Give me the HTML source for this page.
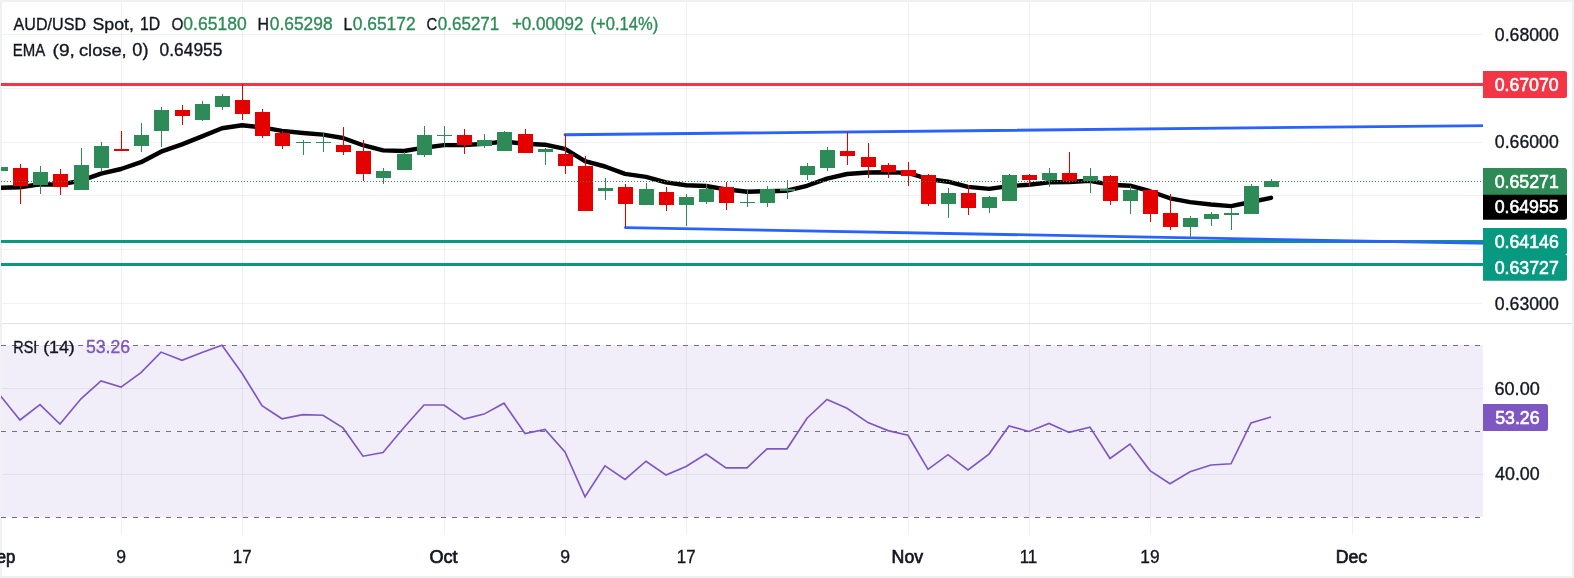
<!DOCTYPE html>
<html><head><meta charset="utf-8"><title>AUD/USD Spot</title>
<style>
html,body{margin:0;padding:0;background:#fff;}
body{width:1574px;height:578px;overflow:hidden;font-family:"Liberation Sans",sans-serif;}
svg{display:block;position:absolute;left:0;top:0;will-change:transform;}
text{font-family:"Liberation Sans",sans-serif;font-size:17px;white-space:pre;}
.d{fill:#131722;stroke:#131722;stroke-width:0.35px;}
.g{fill:#2e8b57;stroke:#2e8b57;stroke-width:0.35px;}
.w{fill:#fff;font-weight:700;}
.b{font-weight:700;fill:#131722;}
</style></head><body>
<svg width="1574" height="578" viewBox="0 0 1574 578">
<rect x="0" y="0" width="1574" height="578" fill="#ffffff"/>
<path d="M0 0H1574V578H0Z M2 2V576H1572V2Z" fill="#eff1f5" fill-rule="evenodd" shape-rendering="crispEdges"/>
<defs><clipPath id="cp"><rect x="1" y="2" width="1482" height="574"/></clipPath></defs>
<rect x="2" y="345" width="1481" height="172" fill="#f1eef9" shape-rendering="crispEdges"/>
<g fill="rgba(42,46,57,0.065)" shape-rendering="crispEdges">
<rect x="2" y="34" width="1481" height="1"/><rect x="2" y="88" width="1481" height="1"/><rect x="2" y="142" width="1481" height="1"/><rect x="2" y="195" width="1481" height="1"/><rect x="2" y="249" width="1481" height="1"/><rect x="2" y="303" width="1481" height="1"/><rect x="121" y="2" width="1" height="321"/><rect x="242" y="2" width="1" height="321"/><rect x="444" y="2" width="1" height="321"/><rect x="565" y="2" width="1" height="321"/><rect x="686" y="2" width="1" height="321"/><rect x="908" y="2" width="1" height="321"/><rect x="1029" y="2" width="1" height="321"/><rect x="1150" y="2" width="1" height="321"/><rect x="1352" y="2" width="1" height="321"/>
</g>
<g fill="rgba(42,46,57,0.065)" shape-rendering="crispEdges">
<rect x="2" y="388" width="1481" height="1"/><rect x="2" y="474" width="1481" height="1"/><rect x="121" y="345" width="1" height="172"/><rect x="242" y="345" width="1" height="172"/><rect x="444" y="345" width="1" height="172"/><rect x="565" y="345" width="1" height="172"/><rect x="686" y="345" width="1" height="172"/><rect x="908" y="345" width="1" height="172"/><rect x="1029" y="345" width="1" height="172"/><rect x="1150" y="345" width="1" height="172"/><rect x="1352" y="345" width="1" height="172"/>
</g>
<g fill="rgba(42,46,57,0.065)" shape-rendering="crispEdges">
<rect x="121" y="324" width="1" height="21"/><rect x="121" y="517" width="1" height="18"/><rect x="242" y="324" width="1" height="21"/><rect x="242" y="517" width="1" height="18"/><rect x="444" y="324" width="1" height="21"/><rect x="444" y="517" width="1" height="18"/><rect x="565" y="324" width="1" height="21"/><rect x="565" y="517" width="1" height="18"/><rect x="686" y="324" width="1" height="21"/><rect x="686" y="517" width="1" height="18"/><rect x="908" y="324" width="1" height="21"/><rect x="908" y="517" width="1" height="18"/><rect x="1029" y="324" width="1" height="21"/><rect x="1029" y="517" width="1" height="18"/><rect x="1150" y="324" width="1" height="21"/><rect x="1150" y="517" width="1" height="18"/><rect x="1352" y="324" width="1" height="21"/><rect x="1352" y="517" width="1" height="18"/>
</g>
<rect x="2" y="323" width="1570" height="1" fill="#e0e3eb" shape-rendering="crispEdges"/>
<g shape-rendering="crispEdges"><rect x="1" y="83" width="1482" height="3" fill="#f23645"/><rect x="1" y="240" width="1482" height="3" fill="#089981"/><rect x="1" y="263" width="1482" height="3" fill="#089981"/></g>
<g stroke="#2962ff" stroke-width="2.8" stroke-linecap="round"><line x1="565" y1="134.75" x2="1490" y2="125.53"/><line x1="625.4" y1="227.55" x2="1490" y2="243.43"/></g>
<polyline clip-path="url(#cp)" fill="none" stroke="#000" stroke-width="4.4" stroke-linejoin="round" stroke-linecap="round" points="0.0,187.7 20.0,187.2 40.0,184.2 60.0,184.6 81.0,180.6 101.0,173.6 121.0,169.0 141.0,162.2 161.0,151.7 182.0,144.4 202.0,136.4 222.0,128.2 242.0,125.3 262.0,127.3 282.0,130.9 303.0,133.0 323.0,134.6 343.0,138.0 363.0,145.2 383.0,150.4 404.0,151.0 424.0,147.7 444.0,145.1 464.0,145.0 484.0,143.9 504.0,141.5 525.0,143.7 545.0,144.7 565.0,148.9 585.0,161.2 605.0,166.5 625.0,173.9 646.0,176.9 666.0,182.4 686.0,185.3 706.0,186.0 726.0,189.3 747.0,191.8 767.0,191.2 787.0,190.7 807.0,185.8 827.0,178.6 847.0,174.0 868.0,172.5 888.0,172.3 908.0,172.9 928.0,179.0 948.0,181.7 968.0,186.9 989.0,188.9 1009.0,186.1 1029.0,184.7 1049.0,182.4 1069.0,182.0 1090.0,180.8 1110.0,184.7 1130.0,185.7 1150.0,191.2 1170.0,198.3 1190.0,202.1 1211.0,204.5 1231.0,206.1 1251.0,202.0 1271.0,197.8"/>
<g shape-rendering="crispEdges" clip-path="url(#cp)">
<rect x="0" y="165" width="1" height="7" fill="#2e8b57"/><rect x="-7" y="167" width="15" height="4" fill="#2e8b57"/>
<rect x="20" y="164" width="1" height="40" fill="#e50000"/><rect x="13" y="168" width="15" height="18" fill="#e50000"/>
<rect x="40" y="166" width="1" height="28" fill="#2e8b57"/><rect x="33" y="172" width="15" height="13" fill="#2e8b57"/>
<rect x="60" y="169" width="1" height="26" fill="#e50000"/><rect x="53" y="174" width="15" height="13" fill="#e50000"/>
<rect x="81" y="148" width="1" height="42" fill="#2e8b57"/><rect x="74" y="165" width="15" height="25" fill="#2e8b57"/>
<rect x="101" y="142" width="1" height="29" fill="#2e8b57"/><rect x="94" y="146" width="15" height="22" fill="#2e8b57"/>
<rect x="121" y="131" width="1" height="20" fill="#e50000"/><rect x="114" y="149" width="15" height="2" fill="#e50000"/>
<rect x="141" y="123" width="1" height="29" fill="#2e8b57"/><rect x="134" y="135" width="15" height="11" fill="#2e8b57"/>
<rect x="161" y="107" width="1" height="40" fill="#2e8b57"/><rect x="154" y="110" width="15" height="21" fill="#2e8b57"/>
<rect x="182" y="105" width="1" height="20" fill="#e50000"/><rect x="175" y="110" width="15" height="6" fill="#e50000"/>
<rect x="202" y="101" width="1" height="20" fill="#2e8b57"/><rect x="195" y="104" width="15" height="16" fill="#2e8b57"/>
<rect x="222" y="94" width="1" height="16" fill="#2e8b57"/><rect x="215" y="96" width="15" height="11" fill="#2e8b57"/>
<rect x="242" y="84" width="1" height="36" fill="#e50000"/><rect x="235" y="100" width="15" height="14" fill="#e50000"/>
<rect x="262" y="109" width="1" height="29" fill="#e50000"/><rect x="255" y="112" width="15" height="24" fill="#e50000"/>
<rect x="282" y="131" width="1" height="18" fill="#e50000"/><rect x="275" y="133" width="15" height="13" fill="#e50000"/>
<rect x="303" y="140" width="1" height="15" fill="#2e8b57"/><rect x="296" y="142" width="15" height="1" fill="#2e8b57"/>
<rect x="323" y="133" width="1" height="19" fill="#2e8b57"/><rect x="316" y="142" width="15" height="1" fill="#2e8b57"/>
<rect x="343" y="127" width="1" height="28" fill="#e50000"/><rect x="336" y="145" width="15" height="7" fill="#e50000"/>
<rect x="363" y="140" width="1" height="41" fill="#e50000"/><rect x="356" y="151" width="15" height="23" fill="#e50000"/>
<rect x="383" y="168" width="1" height="16" fill="#2e8b57"/><rect x="376" y="171" width="15" height="7" fill="#2e8b57"/>
<rect x="404" y="152" width="1" height="18" fill="#2e8b57"/><rect x="397" y="154" width="15" height="16" fill="#2e8b57"/>
<rect x="424" y="126" width="1" height="31" fill="#2e8b57"/><rect x="417" y="135" width="15" height="20" fill="#2e8b57"/>
<rect x="444" y="126" width="1" height="21" fill="#2e8b57"/><rect x="437" y="135" width="15" height="1" fill="#2e8b57"/>
<rect x="464" y="129" width="1" height="25" fill="#e50000"/><rect x="457" y="135" width="15" height="10" fill="#e50000"/>
<rect x="484" y="134" width="1" height="14" fill="#2e8b57"/><rect x="477" y="140" width="15" height="6" fill="#2e8b57"/>
<rect x="504" y="131" width="1" height="20" fill="#2e8b57"/><rect x="497" y="132" width="15" height="19" fill="#2e8b57"/>
<rect x="525" y="129" width="1" height="24" fill="#e50000"/><rect x="518" y="134" width="15" height="19" fill="#e50000"/>
<rect x="545" y="148" width="1" height="17" fill="#2e8b57"/><rect x="538" y="149" width="15" height="3" fill="#2e8b57"/>
<rect x="565" y="134" width="1" height="40" fill="#e50000"/><rect x="558" y="154" width="15" height="12" fill="#e50000"/>
<rect x="585" y="156" width="1" height="55" fill="#e50000"/><rect x="578" y="166" width="15" height="45" fill="#e50000"/>
<rect x="605" y="178" width="1" height="22" fill="#2e8b57"/><rect x="598" y="188" width="15" height="3" fill="#2e8b57"/>
<rect x="625" y="184" width="1" height="43" fill="#e50000"/><rect x="618" y="187" width="15" height="17" fill="#e50000"/>
<rect x="646" y="183" width="1" height="22" fill="#2e8b57"/><rect x="639" y="189" width="15" height="16" fill="#2e8b57"/>
<rect x="666" y="187" width="1" height="24" fill="#e50000"/><rect x="659" y="192" width="15" height="13" fill="#e50000"/>
<rect x="686" y="194" width="1" height="32" fill="#2e8b57"/><rect x="679" y="197" width="15" height="8" fill="#2e8b57"/>
<rect x="706" y="184" width="1" height="20" fill="#2e8b57"/><rect x="699" y="189" width="15" height="13" fill="#2e8b57"/>
<rect x="726" y="182" width="1" height="28" fill="#e50000"/><rect x="719" y="187" width="15" height="16" fill="#e50000"/>
<rect x="747" y="189" width="1" height="18" fill="#2e8b57"/><rect x="740" y="202" width="15" height="1" fill="#2e8b57"/>
<rect x="767" y="186" width="1" height="21" fill="#2e8b57"/><rect x="760" y="189" width="15" height="14" fill="#2e8b57"/>
<rect x="787" y="180" width="1" height="19" fill="#2e8b57"/><rect x="780" y="189" width="15" height="2" fill="#2e8b57"/>
<rect x="807" y="163" width="1" height="17" fill="#2e8b57"/><rect x="800" y="166" width="15" height="9" fill="#2e8b57"/>
<rect x="827" y="147" width="1" height="24" fill="#2e8b57"/><rect x="820" y="150" width="15" height="18" fill="#2e8b57"/>
<rect x="847" y="132" width="1" height="33" fill="#e50000"/><rect x="840" y="151" width="15" height="5" fill="#e50000"/>
<rect x="868" y="143" width="1" height="35" fill="#e50000"/><rect x="861" y="157" width="15" height="10" fill="#e50000"/>
<rect x="888" y="163" width="1" height="15" fill="#e50000"/><rect x="881" y="165" width="15" height="7" fill="#e50000"/>
<rect x="908" y="162" width="1" height="24" fill="#e50000"/><rect x="901" y="170" width="15" height="6" fill="#e50000"/>
<rect x="928" y="174" width="1" height="32" fill="#e50000"/><rect x="921" y="175" width="15" height="29" fill="#e50000"/>
<rect x="948" y="188" width="1" height="30" fill="#2e8b57"/><rect x="941" y="193" width="15" height="11" fill="#2e8b57"/>
<rect x="968" y="185" width="1" height="30" fill="#e50000"/><rect x="961" y="193" width="15" height="15" fill="#e50000"/>
<rect x="989" y="196" width="1" height="17" fill="#2e8b57"/><rect x="982" y="197" width="15" height="11" fill="#2e8b57"/>
<rect x="1009" y="174" width="1" height="27" fill="#2e8b57"/><rect x="1002" y="175" width="15" height="26" fill="#2e8b57"/>
<rect x="1029" y="174" width="1" height="13" fill="#e50000"/><rect x="1022" y="175" width="15" height="5" fill="#e50000"/>
<rect x="1049" y="168" width="1" height="19" fill="#2e8b57"/><rect x="1042" y="173" width="15" height="7" fill="#2e8b57"/>
<rect x="1069" y="152" width="1" height="31" fill="#e50000"/><rect x="1062" y="173" width="15" height="8" fill="#e50000"/>
<rect x="1090" y="168" width="1" height="25" fill="#2e8b57"/><rect x="1083" y="176" width="15" height="5" fill="#2e8b57"/>
<rect x="1110" y="175" width="1" height="30" fill="#e50000"/><rect x="1103" y="176" width="15" height="25" fill="#e50000"/>
<rect x="1130" y="186" width="1" height="28" fill="#2e8b57"/><rect x="1123" y="190" width="15" height="11" fill="#2e8b57"/>
<rect x="1150" y="189" width="1" height="33" fill="#e50000"/><rect x="1143" y="190" width="15" height="24" fill="#e50000"/>
<rect x="1170" y="194" width="1" height="36" fill="#e50000"/><rect x="1163" y="213" width="15" height="14" fill="#e50000"/>
<rect x="1190" y="216" width="1" height="22" fill="#2e8b57"/><rect x="1183" y="218" width="15" height="9" fill="#2e8b57"/>
<rect x="1211" y="212" width="1" height="14" fill="#2e8b57"/><rect x="1204" y="214" width="15" height="5" fill="#2e8b57"/>
<rect x="1231" y="208" width="1" height="22" fill="#2e8b57"/><rect x="1224" y="213" width="15" height="2" fill="#2e8b57"/>
<rect x="1251" y="184" width="1" height="30" fill="#2e8b57"/><rect x="1244" y="186" width="15" height="28" fill="#2e8b57"/>
<rect x="1271" y="179" width="1" height="8" fill="#2e8b57"/><rect x="1264" y="181" width="15" height="6" fill="#2e8b57"/>
</g>
<rect x="1483" y="2" width="89" height="321" fill="#fff" shape-rendering="crispEdges"/>
<line x1="1" y1="181.5" x2="1483" y2="181.5" stroke="#2e8b57" stroke-width="1" stroke-dasharray="1 2" shape-rendering="crispEdges"/>
<line x1="1" y1="345.5" x2="1483" y2="345.5" stroke="#70737e" stroke-width="1" stroke-dasharray="5 6" shape-rendering="crispEdges"/><line x1="1" y1="431.5" x2="1483" y2="431.5" stroke="#70737e" stroke-width="1" stroke-dasharray="5 6" shape-rendering="crispEdges"/><line x1="1" y1="517.5" x2="1483" y2="517.5" stroke="#70737e" stroke-width="1" stroke-dasharray="5 6" shape-rendering="crispEdges"/>
<polyline clip-path="url(#cp)" fill="none" stroke="#7e57c2" stroke-width="1.65" stroke-linejoin="miter" stroke-linecap="butt" points="0.0,395.3 20.0,420.0 40.0,404.7 60.0,424.1 81.0,398.8 101.0,380.9 121.0,387.1 141.0,372.6 161.0,352.1 182.0,360.3 202.0,352.4 222.0,345.3 242.0,373.2 262.0,405.6 282.0,418.8 303.0,414.7 323.0,415.3 343.0,427.9 363.0,456.2 383.0,452.6 404.0,427.5 424.0,405.0 444.0,405.0 464.0,419.1 484.0,414.1 504.0,403.2 525.0,433.5 545.0,429.4 565.0,452.0 585.0,496.8 605.0,465.9 625.0,479.4 646.0,461.2 666.0,475.0 686.0,466.5 706.0,454.1 726.0,467.9 747.0,467.9 767.0,448.8 787.0,448.8 807.0,418.2 827.0,399.4 847.0,408.2 868.0,422.6 888.0,430.6 908.0,435.3 928.0,469.4 948.0,454.7 968.0,470.0 989.0,454.1 1009.0,425.9 1029.0,431.5 1049.0,423.5 1069.0,432.4 1090.0,427.1 1110.0,458.5 1130.0,444.1 1150.0,470.6 1170.0,483.8 1190.0,471.8 1211.0,465.0 1231.0,463.8 1251.0,422.9 1271.0,417.0"/>
<path d="M1483 71.1H1564.5a2.5 2.5 0 0 1 2.5 2.5V95.4a2.5 2.5 0 0 1 -2.5 2.5H1483Z" fill="#f23645"/><path d="M1483 168.1H1564.5a2.5 2.5 0 0 1 2.5 2.5V195H1483Z" fill="#2e8b57"/><path d="M1483 194.75H1567V217.35a2.5 2.5 0 0 1 -2.5 2.5H1483Z" fill="#000000"/><path d="M1483 228H1564.5a2.5 2.5 0 0 1 2.5 2.5V252.0a2.5 2.5 0 0 1 -2.5 2.5H1483Z" fill="#089981"/><path d="M1483 254H1564.5a2.5 2.5 0 0 1 2.5 2.5V278.25a2.5 2.5 0 0 1 -2.5 2.5H1483Z" fill="#089981"/><path d="M1483 404H1545.5a2.5 2.5 0 0 1 2.5 2.5V428.5a2.5 2.5 0 0 1 -2.5 2.5H1483Z" fill="#7e57c2"/>
<text transform="translate(1494.81 41) scale(0.9886 1)" style="font-size:17.9px;fill:#131722;stroke:#131722;stroke-width:0.35px;">0.68000</text><text transform="translate(1494.81 148) scale(0.9886 1)" style="font-size:17.9px;fill:#131722;stroke:#131722;stroke-width:0.35px;">0.66000</text><text transform="translate(1494.81 310) scale(0.9886 1)" style="font-size:17.9px;fill:#131722;stroke:#131722;stroke-width:0.35px;">0.63000</text><text transform="translate(1494.63 91) scale(0.9894 1)" style="font-size:17.9px;fill:#ffffff;stroke:#ffffff;stroke-width:0.6px;">0.67070</text><text transform="translate(1494.63 188) scale(0.9914 1)" style="font-size:17.9px;fill:#ffffff;stroke:#ffffff;stroke-width:0.6px;">0.65271</text><text transform="translate(1494.63 213) scale(0.9894 1)" style="font-size:17.9px;fill:#ffffff;stroke:#ffffff;stroke-width:0.6px;">0.64955</text><text transform="translate(1494.63 248) scale(0.9914 1)" style="font-size:17.9px;fill:#ffffff;stroke:#ffffff;stroke-width:0.6px;">0.64146</text><text transform="translate(1494.63 274) scale(0.9914 1)" style="font-size:17.9px;fill:#ffffff;stroke:#ffffff;stroke-width:0.6px;">0.63727</text><text transform="translate(1494.54 395) scale(1.0092 1)" style="font-size:17.9px;fill:#131722;stroke:#131722;stroke-width:0.35px;">60.00</text><text transform="translate(1495.05 480) scale(0.9977 1)" style="font-size:17.9px;fill:#131722;stroke:#131722;stroke-width:0.35px;">40.00</text><text transform="translate(1495.13 424) scale(0.9937 1)" style="font-size:17.9px;fill:#ffffff;stroke:#ffffff;stroke-width:0.6px;">53.26</text><text transform="translate(13.62 30) scale(0.9260 1)" style="font-size:17.4px;fill:#131722;stroke:#131722;stroke-width:0.35px;">AUD/USD</text><text transform="translate(92.51 30) scale(1.0214 1)" style="font-size:17.4px;fill:#131722;stroke:#131722;stroke-width:0.35px;">Spot,</text><text transform="translate(140.10 30) scale(0.8814 1)" style="font-size:17.9px;fill:#131722;stroke:#131722;stroke-width:0.35px;">1D</text><text transform="translate(171.45 30) scale(0.8816 1)" style="font-size:17.4px;fill:#131722;stroke:#131722;stroke-width:0.35px;">O</text><text transform="translate(183.31 30) scale(0.9792 1)" style="font-size:17.9px;fill:#2e8b57;stroke:#2e8b57;stroke-width:0.35px;">0.65180</text><text transform="translate(257.45 30) scale(0.9185 1)" style="font-size:17.4px;fill:#131722;stroke:#131722;stroke-width:0.35px;">H</text><text transform="translate(269.81 30) scale(0.9713 1)" style="font-size:17.9px;fill:#2e8b57;stroke:#2e8b57;stroke-width:0.35px;">0.65298</text><text transform="translate(343.48 30) scale(0.9000 1)" style="font-size:17.4px;fill:#131722;stroke:#131722;stroke-width:0.35px;">L</text><text transform="translate(352.71 30) scale(0.9732 1)" style="font-size:17.9px;fill:#2e8b57;stroke:#2e8b57;stroke-width:0.35px;">0.65172</text><text transform="translate(426.46 30) scale(0.8527 1)" style="font-size:17.4px;fill:#131722;stroke:#131722;stroke-width:0.35px;">C</text><text transform="translate(437.72 30) scale(0.9528 1)" style="font-size:17.9px;fill:#2e8b57;stroke:#2e8b57;stroke-width:0.35px;">0.65271</text><text transform="translate(511.88 30) scale(0.9535 1)" style="font-size:17.9px;fill:#2e8b57;stroke:#2e8b57;stroke-width:0.35px;">+0.00092</text><text transform="translate(590.59 30) scale(0.9263 1)" style="font-size:17.9px;fill:#2e8b57;stroke:#2e8b57;stroke-width:0.35px;">(+0.14%)</text><text transform="translate(12.77 56) scale(0.8614 1)" style="font-size:17.4px;fill:#131722;stroke:#131722;stroke-width:0.35px;">EMA</text><text transform="translate(52.54 56) scale(1.1000 1)" style="font-size:17.4px;fill:#131722;stroke:#131722;stroke-width:0.35px;">(9,</text><text transform="translate(78.94 56) scale(1.0513 1)" style="font-size:17.4px;fill:#131722;stroke:#131722;stroke-width:0.35px;">close,</text><text transform="translate(132.29 56) scale(1.0138 1)" style="font-size:17.9px;fill:#131722;stroke:#131722;stroke-width:0.35px;">0)</text><text transform="translate(159.62 56) scale(0.9697 1)" style="font-size:17.9px;fill:#131722;stroke:#131722;stroke-width:0.35px;">0.64955</text><text transform="translate(13.26 353) scale(0.8305 1)" style="font-size:17.4px;fill:#131722;stroke:#131722;stroke-width:0.35px;">RSI</text><text transform="translate(43.17 353) scale(1.0211 1)" style="font-size:17.4px;fill:#131722;stroke:#131722;stroke-width:0.35px;">(14)</text><text transform="translate(85.90 353) scale(0.9903 1)" style="font-size:17.9px;fill:#7e57c2;stroke:#7e57c2;stroke-width:0.35px;">53.26</text><text transform="translate(-14.45 563) scale(0.9280 1)" style="font-size:18px;fill:#131722;stroke:#131722;stroke-width:0.7px;">Sep</text><text transform="translate(116.33 563) scale(1.0000 1)" style="font-size:17.6px;fill:#131722;stroke:#131722;stroke-width:0.35px;">9</text><text transform="translate(232.77 563) scale(0.9634 1)" style="font-size:17.6px;fill:#131722;stroke:#131722;stroke-width:0.35px;">17</text><text transform="translate(429.50 563) scale(1.0054 1)" style="font-size:18px;fill:#131722;stroke:#131722;stroke-width:0.7px;">Oct</text><text transform="translate(560.33 563) scale(1.0000 1)" style="font-size:17.6px;fill:#131722;stroke:#131722;stroke-width:0.35px;">9</text><text transform="translate(676.77 563) scale(0.9634 1)" style="font-size:17.6px;fill:#131722;stroke:#131722;stroke-width:0.35px;">17</text><text transform="translate(891.59 563) scale(0.9856 1)" style="font-size:18px;fill:#131722;stroke:#131722;stroke-width:0.7px;">Nov</text><text transform="translate(1019.67 563) scale(0.9636 1)" style="font-size:17.6px;fill:#131722;stroke:#131722;stroke-width:0.35px;">11</text><text transform="translate(1140.34 563) scale(0.9859 1)" style="font-size:17.6px;fill:#131722;stroke:#131722;stroke-width:0.35px;">19</text><text transform="translate(1335.70 563) scale(0.9821 1)" style="font-size:18px;fill:#131722;stroke:#131722;stroke-width:0.7px;">Dec</text>
</svg>
</body></html>
